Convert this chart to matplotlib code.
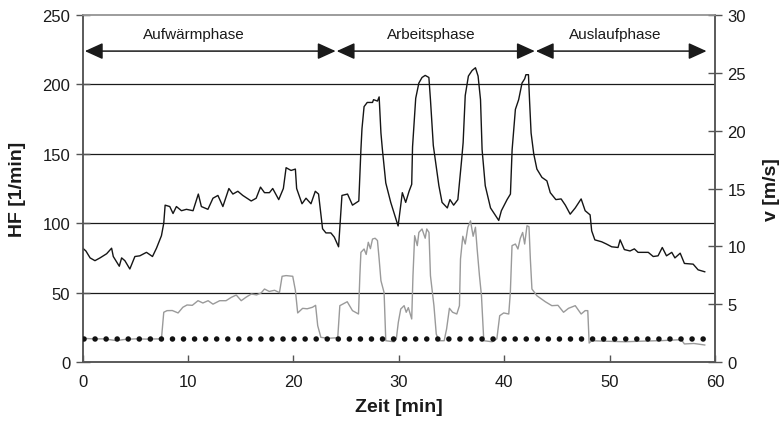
import matplotlib
matplotlib.use("Agg")
import matplotlib.pyplot as plt

plt.rcParams['font.family'] = ['Liberation Sans', 'DejaVu Sans']

# Heart rate (1/min) over time (min)
hf_time = [0.0, 0.3, 0.7, 1.16, 1.64, 2.27, 2.74, 2.9, 3.47, 3.69, 4.0, 4.47, 4.95, 5.42,
           6.05, 6.62, 7.0, 7.47, 7.69, 7.82, 8.26, 8.57, 8.89, 9.37, 9.84, 10.47, 10.97,
           11.26, 11.88, 12.36, 12.83, 13.3, 13.87, 14.25, 14.72, 15.19, 15.99, 16.46,
           16.87, 17.25, 17.72, 18.03, 18.6, 19.04, 19.3, 19.77, 20.18, 20.3, 20.81, 21.19,
           21.66, 22.07, 22.38, 22.76, 23.08, 23.55, 23.87, 24.28, 24.6, 25.13, 25.6, 26.2,
           26.4, 26.5, 26.7, 27.0, 27.5, 27.6, 27.97, 28.13, 28.3, 28.44, 28.76, 29.23,
           29.93, 30.33, 30.65, 30.97, 31.22, 31.3, 31.6, 31.9, 32.2, 32.5, 32.85, 33.0,
           33.27, 33.8, 34.1, 34.6, 34.85, 35.2, 35.6, 35.95, 36.1, 36.3, 36.6, 36.95,
           37.27, 37.52, 37.75, 37.9, 38.2, 38.7, 39.48, 39.73, 40.27, 40.59, 40.75, 41.06,
           41.37, 41.69, 41.94, 42.06, 42.3, 42.4, 42.55, 42.8, 43.1, 43.58, 44.05, 44.37,
           44.9, 45.4, 45.8, 46.26, 46.74, 47.3, 47.68, 48.15, 48.3, 48.6, 49.25, 49.7,
           50.2, 50.8, 51.0, 51.4, 51.94, 52.35, 52.7, 53.67, 54.14, 54.6, 55.0, 55.4,
           55.9, 56.2, 56.7, 57.1, 57.93, 58.4, 59.03]
hf_values = [82, 80, 75, 73, 75, 78, 82, 76, 69, 75, 73, 67, 76, 76.5,
             79, 76, 82, 91, 100, 113, 112, 107, 112, 109, 110, 109, 121,
             112, 110, 118, 120, 112, 125, 121, 123, 120, 116, 118,
             126, 122, 122, 125, 117, 125, 140, 138, 139, 125, 114, 118,
             114, 123, 121, 96, 93, 93, 90, 83, 120, 121, 113, 116,
             153, 168, 184, 187, 187, 189, 188, 191, 165, 153, 129, 115,
             98, 122, 115, 123, 128, 155, 190, 201, 205, 206.5, 205, 189,
             156, 127, 115, 111, 117, 113, 117, 145, 158, 192, 206, 210,
             212, 206, 189, 153, 127, 111, 102, 109, 117, 121, 153, 182,
             189, 201, 204, 207, 207, 189, 165, 150, 139, 133, 130.5, 122,
             117, 117.5, 113, 106.5, 111, 117.5, 109, 106, 94.5, 88, 86.6, 85,
             83, 82.5, 88, 81, 80, 81.5, 79, 79, 76, 76.5, 82.5, 76.5,
             79, 75, 78.4, 71, 70.5, 66.4, 65]

# Speed (m/s) over time (min)
v_time = [0.0, 1.0, 2.0, 3.2, 4.0, 5.0, 6.0, 7.2, 7.47, 7.69, 8.0, 8.5, 9.05, 9.5, 9.9,
          10.4, 10.94, 11.4, 11.9, 12.36, 13.0, 13.6, 14.1, 14.57, 15.04, 15.5, 16.0,
          16.5, 16.93, 17.25, 17.7, 18.2, 18.67, 18.92, 19.3, 19.93, 20.18, 20.4, 20.87,
          21.3, 21.8, 22.1, 22.3, 22.6, 23.3, 24.2, 24.4, 25.1, 25.6, 26.17, 26.3, 26.4,
          26.7, 26.9, 27.1, 27.3, 27.5, 27.75, 27.97, 28.13, 28.3, 28.6, 28.76, 29.55,
          29.76, 29.95, 30.18, 30.5, 30.7, 30.9, 31.22, 31.34, 31.5, 31.75, 31.9, 32.2,
          32.5, 32.65, 32.86, 33.0, 33.33, 33.55, 33.8, 34.3, 34.53, 34.8, 35.1, 35.5,
          35.75, 35.85, 36.07, 36.3, 36.55, 36.8, 37.05, 37.27, 37.43, 37.65, 37.84,
          38.06, 38.85, 39.3, 39.57, 39.95, 40.43, 40.58, 40.74, 41.06, 41.3, 41.53,
          41.75, 41.94, 42.16, 42.35, 42.48, 42.63, 43.1, 43.9, 44.52, 45.1, 45.63,
          46.1, 46.74, 47.3, 47.68, 47.93, 48.06, 48.3, 49.5, 51.47, 53.0, 55.0, 56.8,
          57.1, 58.0, 59.03]
v_values = [2.05, 2.0, 2.0, 1.85, 1.95, 2.0, 1.98, 1.99, 2.0, 4.3, 4.44, 4.45, 4.24, 4.73, 4.93,
            4.9, 5.3, 5.1, 5.3, 5.0, 5.3, 5.3, 5.59, 5.79, 5.3, 5.6, 5.88,
            5.8, 5.97, 6.31, 6.1, 6.2, 6.0, 7.41, 7.47, 7.41, 6.2, 4.24, 4.64,
            4.6, 4.73, 4.9, 3.14, 2.13, 2.05, 2.1, 4.87, 5.21, 4.44, 4.15, 7.46, 9.48,
            9.77, 9.3, 10.35, 9.8, 10.63, 10.7, 10.5, 8.9, 7.03, 6.0, 1.84, 1.75,
            2.0, 3.43, 4.58, 4.87, 4.3, 4.7, 3.72, 7.46, 10.92, 10.06, 11.2, 11.5,
            10.7, 11.5, 11.2, 7.46, 4.87, 2.42, 1.84, 1.84, 2.85, 4.64, 4.3, 4.15,
            4.87, 8.9, 10.87, 10.2, 11.65, 12.2, 10.87, 11.65, 9.77, 7.46, 5.73,
            1.84, 1.75, 2.0, 4.0, 4.24, 4.15, 6.0, 10.06, 10.2, 9.77, 10.7,
            11.2, 10.2, 11.78, 11.7, 8.9, 6.31, 5.73, 5.21, 4.87, 4.9, 4.3,
            4.64, 4.87, 4.15, 4.44, 4.44, 1.64, 1.84, 1.8, 1.75, 1.8, 1.85, 1.93,
            1.56, 1.6, 1.47]

# Constant reference speed (m/s)
ref_time = [0.1, 59.1]
ref_speed = [2.0, 2.0]

# Phases of the session
phase_names = ["Aufwärmphase", "Arbeitsphase", "Auslaufphase"]
phase_start = [0.2, 24.1, 43.0]
phase_end = [24.0, 42.9, 59.2]
phase_label_x = [10.5, 33.1, 50.5]
arrow_level = 224
label_level = 236

hf_ticks = [0, 50, 100, 150, 200, 250]
v_ticks = [0, 5, 10, 15, 20, 25, 30]
x_ticks = [0, 10, 20, 30, 40, 50, 60]

fig = plt.figure(figsize=(7.79, 4.27), dpi=100)
ax = fig.add_axes([0.1062, 0.1499, 0.8116, 0.8126])
ax2 = ax.twinx()

ax.set_xlim(0, 60)
ax.set_ylim(0, 250)
ax2.set_ylim(0, 30)

# horizontal grid at the heart-rate ticks
for yv in hf_ticks[1:-1]:
    ax.axhline(yv, color='#1a1a1a', lw=0.9, zorder=1)

ax.plot(hf_time, hf_values, color='#151515', lw=1.0, zorder=3)
ax2.plot(v_time, v_values, color='#9a9a9a', lw=1.0, zorder=3)
ax2.plot(ref_time, ref_speed, color='#111111', lw=4.0,
         linestyle=(0, (0.01, 1.98)), dash_capstyle='round', zorder=4)

for name, x0, x1, xl in zip(phase_names, phase_start, phase_end, phase_label_x):
    ax.annotate('', xy=(x1, arrow_level), xytext=(x0, arrow_level),
                arrowprops=dict(arrowstyle='<|-|>,head_length=1.1,head_width=0.5',
                                mutation_scale=10, color='#1a1a1a', lw=1.1,
                                shrinkA=0, shrinkB=0), zorder=5)
    ax.text(xl, label_level, name, ha='center', va='center', fontsize=11,
            color='#1a1a1a')

ax.set_xticks(x_ticks)
ax.set_yticks(hf_ticks)
ax2.set_yticks(v_ticks)

for a in (ax, ax2):
    for s in a.spines.values():
        s.set_color('#555555')
        s.set_linewidth(1.1)
    a.spines['top'].set_color('#999999')

ax.tick_params(axis='x', direction='in', length=5, width=1, color='#555555',
               labelsize=12, labelcolor='#1a1a1a', pad=9)
ax.tick_params(axis='y', direction='inout', length=10, width=1, color='#555555',
               labelsize=12, labelcolor='#1a1a1a', pad=4)
ax2.tick_params(axis='y', direction='inout', length=10, width=1, color='#555555',
                labelsize=12, labelcolor='#1a1a1a', pad=4)

ax.set_xlabel('Zeit [min]', fontsize=14, fontweight='bold', color='#1a1a1a', labelpad=6)
ax.set_ylabel('HF [1/min]', fontsize=14, fontweight='bold', color='#1a1a1a', labelpad=12)
ax2.set_ylabel('v [m/s]', fontsize=14, fontweight='bold', color='#1a1a1a', labelpad=12)

fig.savefig('out.png', dpi=100)
